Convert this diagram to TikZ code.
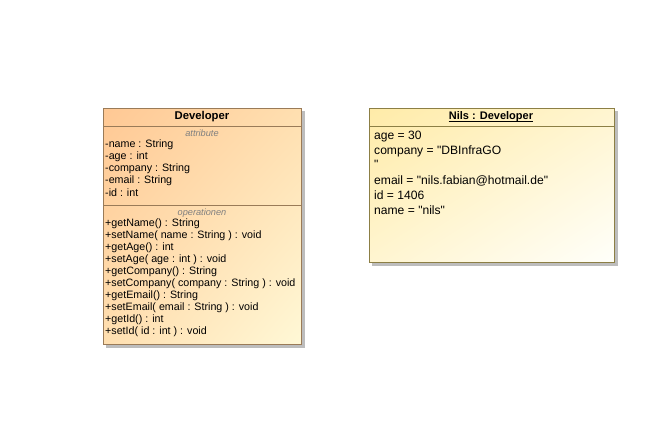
\documentclass[tikz,border=0pt]{standalone}
\usepackage{fontspec}
\setmainfont{Liberation Sans}[Ligatures=TeXOff]
\usetikzlibrary{shadings}
\begin{document}
\begin{tikzpicture}[x=1pt,y=-1pt,
  txt/.style={anchor=west,inner sep=0pt,font=\fontsize{10.7}{12}\selectfont},
  otxt/.style={anchor=west,inner sep=0pt,font=\fontsize{12.1}{14}\selectfont},
  sect/.style={inner sep=0pt,font=\fontsize{9.2}{10}\selectfont\itshape,text=black!50},
  ttl/.style={inner sep=0pt,font=\fontsize{11.3}{12}\selectfont\bfseries}]
\useasboundingbox (0,0) rectangle (660,436);
\definecolor{clsA}{HTML}{FFC894}
\definecolor{clsM}{HTML}{FFDFB0}
\definecolor{clsB}{HTML}{FFF8D6}
\definecolor{clsD}{HTML}{9A7B58}
\definecolor{objA}{HTML}{FFEBA8}
\definecolor{objM}{HTML}{FFF5D0}
\definecolor{objB}{HTML}{FFFFFA}
\definecolor{objD}{HTML}{8C7F45}
\definecolor{shad}{HTML}{BDBDBD}
% class box
\fill[shad] (106,111) rectangle (305,348);
\shade[upper left=clsA,lower right=clsB,upper right=clsM,lower left=clsM] (103,108) rectangle (301,344);
\draw[clsD,line width=0.9pt] (103,108) rectangle (301,344);
\draw[clsD,line width=0.9pt] (103,126) -- (301,126);
\draw[clsD,line width=0.9pt] (103,205) -- (301,205);
\node[ttl] (cls) at (202,117) {Developer};
\node[sect] (sa) at (202,133) {attribute};
\node[txt] (a1) at (105,145) {-name : String};
\node[txt] (a2) at (105,157) {-age : int};
\node[txt] (a3) at (105,169) {-company : String};
\node[txt] (a4) at (105,181) {-email : String};
\node[txt] (a5) at (105,193) {-id : int};
\node[sect] (so) at (202,213) {operationen};
\node[txt] (o1) at (105,224) {+getName() : String};
\node[txt] (o2) at (105,236) {+setName( name : String ) : void};
\node[txt] (o3) at (105,248) {+getAge() : int};
\node[txt] (o4) at (105,260) {+setAge( age : int ) : void};
\node[txt] (o5) at (105,272) {+getCompany() : String};
\node[txt] (o6) at (105,284) {+setCompany( company : String ) : void};
\node[txt] (o7) at (105,296) {+getEmail() : String};
\node[txt] (o8) at (105,308) {+setEmail( email : String ) : void};
\node[txt] (o9) at (105,320) {+getId() : int};
\node[txt] (o10) at (105,332) {+setId( id : int ) : void};
% object box
\fill[shad] (372,111) rectangle (618,266);
\shade[upper left=objA,lower right=objB,upper right=objM,lower left=objM] (369,108) rectangle (614,262);
\draw[objD,line width=0.9pt] (369,108) rectangle (614,262);
\draw[objD,line width=0.9pt] (369,126) -- (614,126);
\node[ttl,font=\fontsize{11}{12}\selectfont\bfseries] (obj) at (491,117) {Nils : Developer};
\draw[line width=0.6pt] ([yshift=-1.2pt]obj.base west) -- ([yshift=-1.2pt]obj.base east);
\node[otxt] (v1) at (374,137) {age = 30};
\node[otxt] (v2) at (374,151.5) {company = "DBInfraGO};
\node[otxt,anchor=north west] (v3) at (374,160) {"};
\node[otxt] (v4) at (374,180.5) {email = "nils.fabian@hotmail.de"};
\node[otxt] (v5) at (374,195.5) {id = 1406};
\node[otxt] (v6) at (374,210.5) {name = "nils"};
\end{tikzpicture}
\end{document}
